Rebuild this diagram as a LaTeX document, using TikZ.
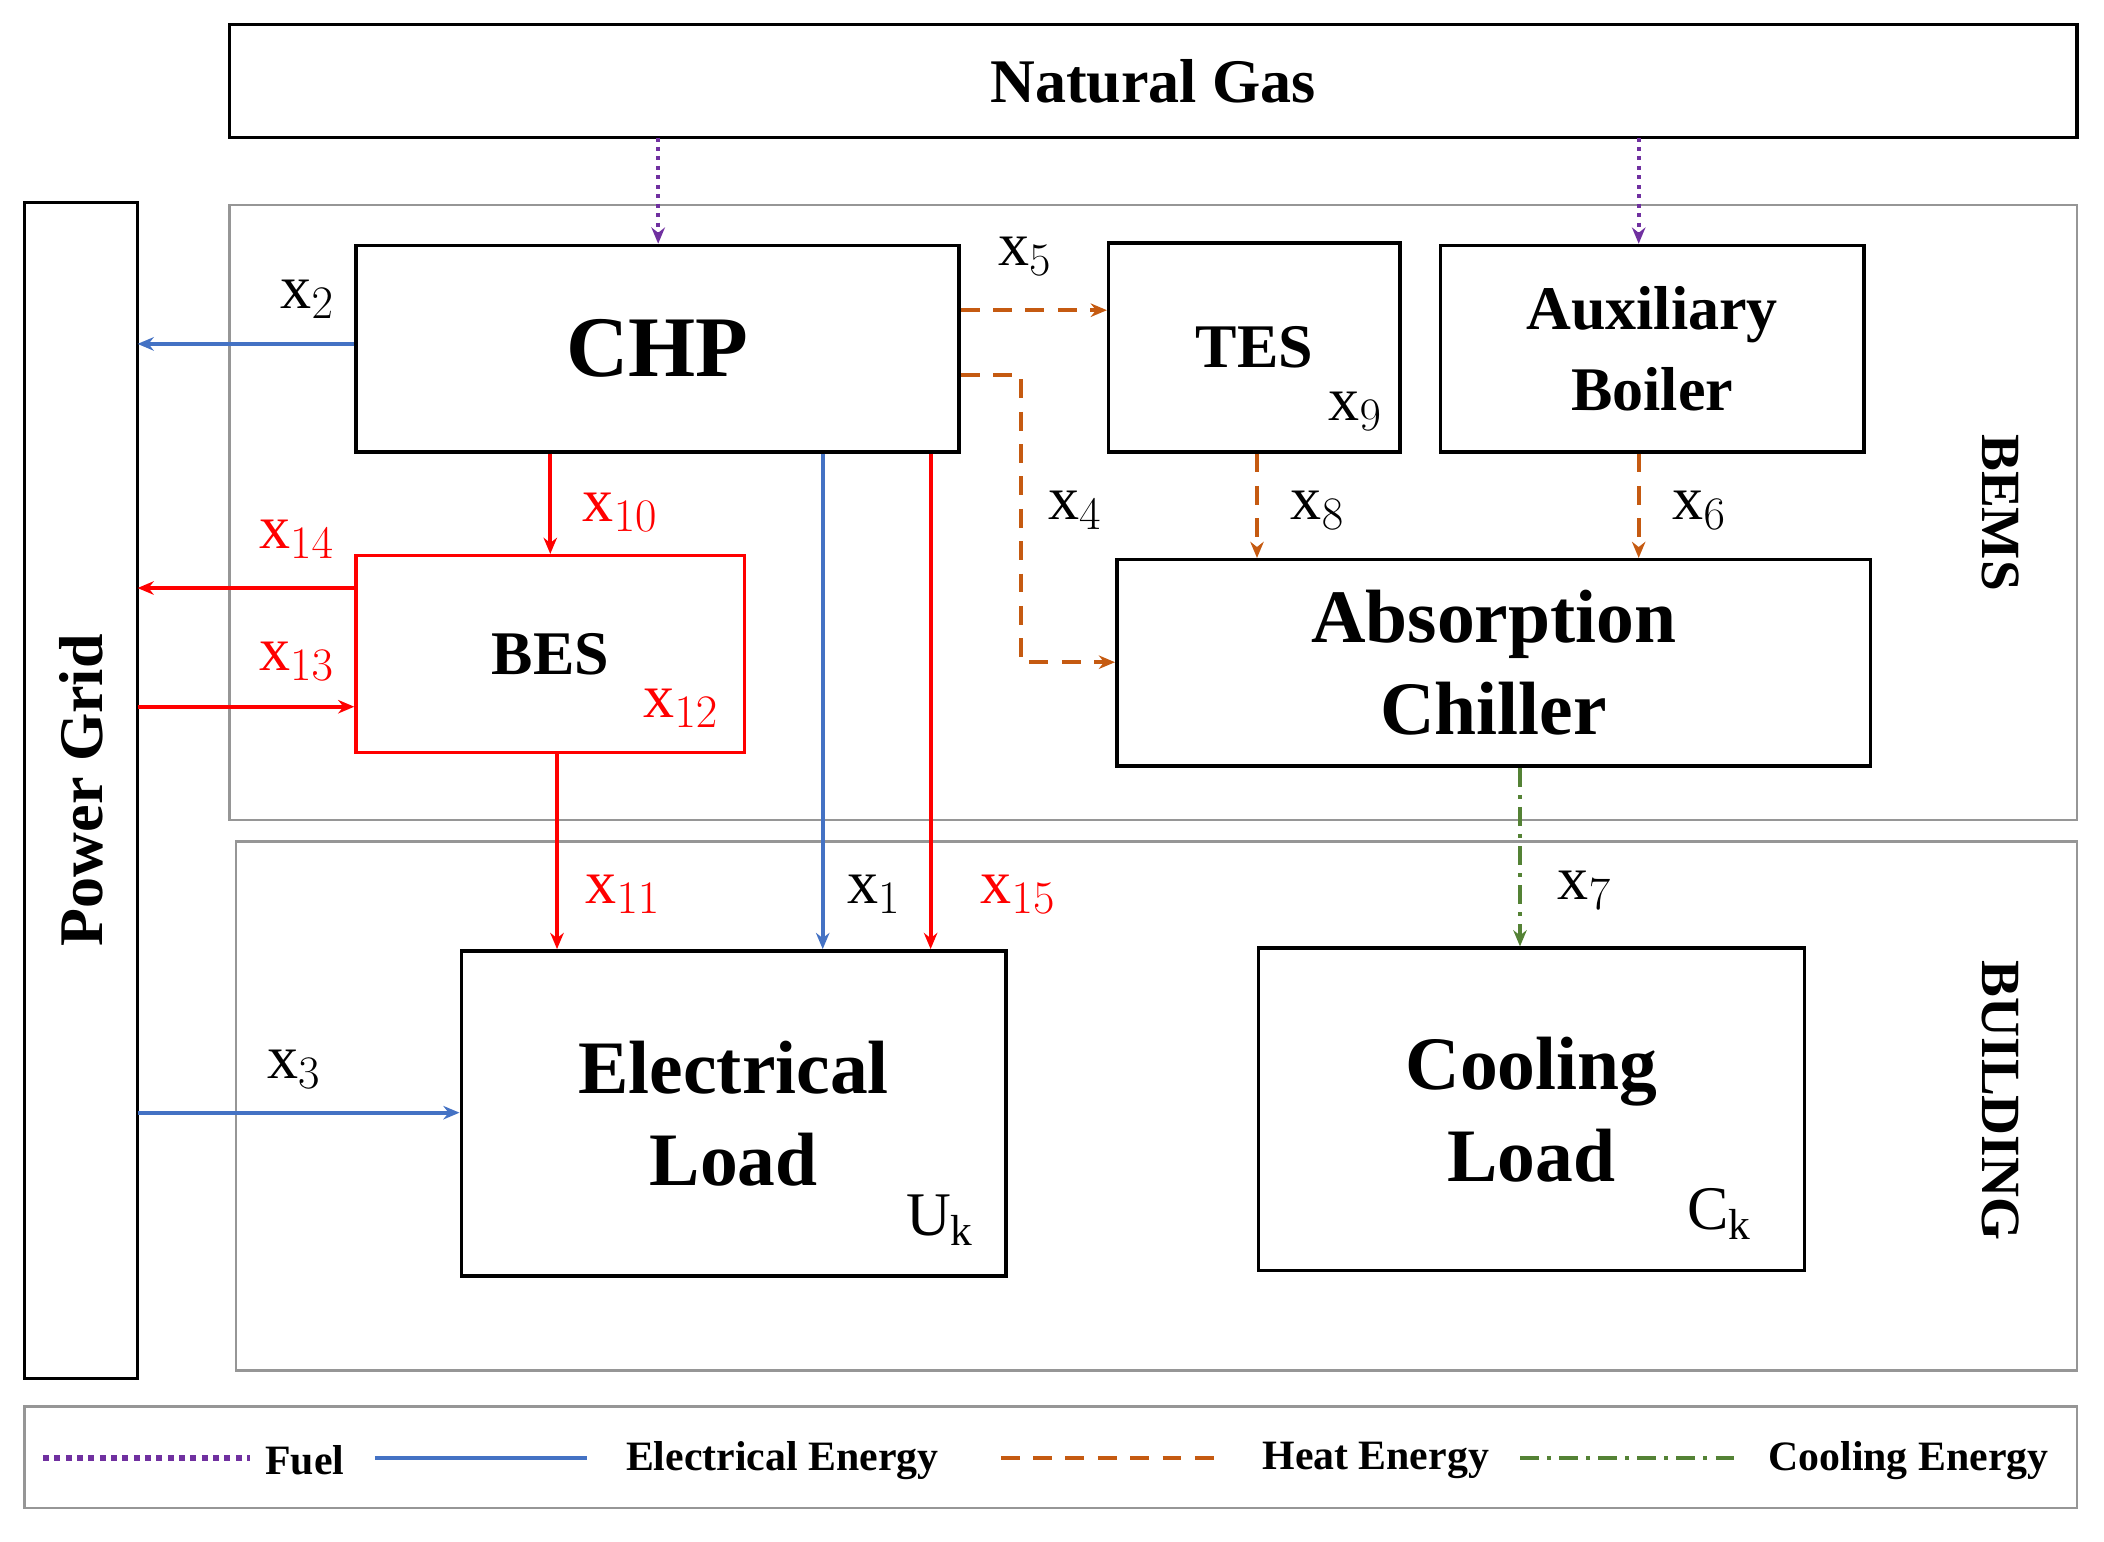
\documentclass[tikz,border=0pt]{standalone}
\usepackage{fontspec}
\setmainfont{Liberation Serif}
\usetikzlibrary{arrows.meta}
\definecolor{fuel}{RGB}{112,48,160}
\definecolor{elec}{RGB}{68,114,196}
\definecolor{heat}{RGB}{197,90,17}
\definecolor{cool}{RGB}{84,130,53}
\definecolor{frame}{RGB}{150,150,150}
\begin{document}
\begin{tikzpicture}[x=0.5pt,y=-0.5pt,
 box/.style={draw,line width=1.3pt,inner sep=0},
 fr/.style={draw=frame,line width=1pt},
 big/.style={font=\fontsize{23}{30}\selectfont\bfseries,align=center},
 lab/.style={font=\fontsize{23}{25}\selectfont},
 ar/.style={line width=1.5pt,-{Stealth[length=6pt,width=5pt]}},
 fu/.style={ar,fuel,dotted,line width=1.6pt},
 el/.style={ar,elec},
 rd/.style={ar,red},
 ht/.style={ar,heat,dash pattern=on 7pt off 5pt},
 co/.style={ar,cool,dash pattern=on 7pt off 3pt on 1.5pt off 3pt},
 leg/.style={font=\fontsize{15.5}{18}\selectfont\bfseries}]
\useasboundingbox (0,0) rectangle (1560,1143);
\draw[fr] (170,152) rectangle (1540,608);
\draw[fr] (175,624) rectangle (1540,1016);
\draw[fr] (18,1043) rectangle (1540,1118);
\node[font=\fontsize{20.5}{22}\selectfont\bfseries,rotate=-90] (bems) at (1483,380) {BEMS};
\node[font=\fontsize{20.5}{22}\selectfont\bfseries,rotate=-90] (bld) at (1483,816) {BUILDING};
\node[box,minimum width=685,minimum height=42,font=\fontsize{23}{26}\selectfont\bfseries] (ng) at (855,60) {Natural Gas};
\node[box,minimum width=42,minimum height=436] (pg) at (60,586) {};
\node[font=\fontsize{23}{26}\selectfont\bfseries,rotate=90] (pgt) at (pg.center) {Power Grid};
\node[box,minimum width=223.5,minimum height=76.5,font=\fontsize{32}{36}\selectfont\bfseries] (chp) at (487.5,258.5) {CHP};
\node[box,minimum width=108,minimum height=77.5,big] (tes) at (930,257.5) {TES};
\node[box,minimum width=157,minimum height=76.5,big] (ab) at (1225,258.5) {Auxiliary\\Boiler};
\node[box,draw=red,minimum width=144,minimum height=73,big] (bes) at (408,485) {BES};
\node[box,minimum width=279.5,minimum height=76.5,font=\fontsize{28}{34}\selectfont\bfseries,align=center] (ac) at (1107.5,491.5) {Absorption\\Chiller};
\node[box,minimum width=202,minimum height=120.5,font=\fontsize{28}{34}\selectfont\bfseries,align=center] (el) at (544,825.5) {Electrical\\Load};
\node[box,minimum width=202.5,minimum height=119.5,font=\fontsize{28}{34}\selectfont\bfseries,align=center] (cl) at (1135.5,822.5) {Cooling\\Load};
\node[lab] (x9) at (1005,305) {x$_9$};
\node[lab,red] (x12) at (505,525) {x$_{12}$};
\node[lab] (uk) at (697,905) {U$_\mathrm{k}$};
\node[lab] (ck) at (1275,900) {C$_\mathrm{k}$};
\draw[fu] (488,102) -- (chp.north -| 488,0);
\draw[fu] (1215,102) -- (ab.north -| 1215,0);
\coordinate (p2) at (102,255); \draw[el] (chp.west |- p2) -- (p2); \node[lab] (x2) at (228,222) {x$_2$};
\coordinate (p5) at (822,230); \draw[ht] (chp.east |- p5) -- (tes.west |- p5); \node[lab] (x5) at (760,190) {x$_5$};
\coordinate (p4a) at (757,278); \coordinate (p4b) at (757,491);
\draw[ht] (chp.east |- p4a) -- (p4a) -- (p4b) -- (ac.west |- p4b); \node[lab] (x4) at (797,378) {x$_4$};
\draw[ht] (tes.south -| 932,0) -- (ac.north -| 932,0); \node[lab] (x8) at (977,378) {x$_8$};
\draw[ht] (ab.south -| 1215,0) -- (ac.north -| 1215,0); \node[lab] (x6) at (1260,378) {x$_6$};
\draw[rd] (chp.south -| 408,0) -- (bes.north -| 408,0); \node[lab,red] (x10) at (460,380) {x$_{10}$};
\coordinate (p14) at (102,436); \draw[rd] (bes.west |- p14) -- (p14); \node[lab,red] (x14) at (220,400) {x$_{14}$};
\coordinate (p13) at (102,524); \draw[rd] (p13) -- (bes.west |- p13); \node[lab,red] (x13) at (220,490) {x$_{13}$};
\draw[rd] (bes.south -| 413,0) -- (el.north -| 413,0); \node[lab,red] (x11) at (462,663) {x$_{11}$};
\draw[el] (chp.south -| 610,0) -- (el.north -| 610,0); \node[lab] (x1) at (648,663) {x$_1$};
\draw[rd] (chp.south -| 690,0) -- (el.north -| 690,0); \node[lab,red] (x15) at (755,663) {x$_{15}$};
\coordinate (p3) at (102,825); \draw[el] (p3) -- (el.west |- p3); \node[lab] (x3) at (218,793) {x$_3$};
\draw[co] (ac.south -| 1127,0) -- (cl.north -| 1127,0); \node[lab] (x7) at (1175,660) {x$_7$};
\coordinate (l1a) at (32,1081); \coordinate (l1b) at (185,1081);
\draw[fuel,dotted,line width=2.2pt] (l1a) -- (l1b); \node[leg] (lf) at (226,1083) {Fuel};
\coordinate (l2a) at (278,1081); \coordinate (l2b) at (435,1081);
\draw[elec,line width=1.5pt] (l2a) -- (l2b); \node[leg] (le) at (580,1083) {Electrical Energy};
\coordinate (l3a) at (742,1081); \coordinate (l3b) at (905,1081);
\draw[heat,line width=1.5pt,dash pattern=on 7pt off 5pt] (l3a) -- (l3b); \node[leg] (lh) at (1020,1083) {Heat Energy};
\coordinate (l4a) at (1127,1081); \coordinate (l4b) at (1290,1081);
\draw[cool,line width=1.5pt,dash pattern=on 7pt off 3pt on 1.5pt off 3pt] (l4a) -- (l4b); \node[leg] (lc) at (1415,1083) {Cooling Energy};
\end{tikzpicture}
\end{document}
